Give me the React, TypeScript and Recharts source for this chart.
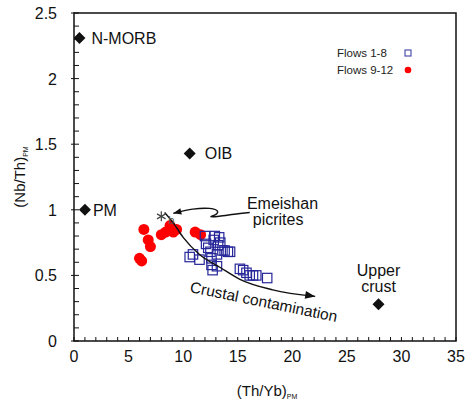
import { ScatterChart, Scatter, XAxis, YAxis, ReferenceArea, Legend, Label } from 'recharts';

const FONT = '"Liberation Sans", Arial, Helvetica, sans-serif';
const INK = '#111';

// Flows 1-8, open squares
const flows1to8 = [
  { x: 10.6, y: 0.64 }, { x: 10.9, y: 0.66 }, { x: 11.5, y: 0.62 }, { x: 12.0, y: 0.8 },
  { x: 12.3, y: 0.71 }, { x: 12.6, y: 0.63 }, { x: 12.8, y: 0.77 }, { x: 12.9, y: 0.8 },
  { x: 13.1, y: 0.57 }, { x: 13.2, y: 0.73 }, { x: 13.4, y: 0.75 }, { x: 12.6, y: 0.58 },
  { x: 13.6, y: 0.69 }, { x: 13.8, y: 0.69 }, { x: 14.1, y: 0.68 }, { x: 14.3, y: 0.68 },
  { x: 12.7, y: 0.54 }, { x: 15.2, y: 0.55 }, { x: 15.5, y: 0.54 }, { x: 15.8, y: 0.52 },
  { x: 16.1, y: 0.5 }, { x: 16.4, y: 0.5 }, { x: 16.7, y: 0.5 }, { x: 17.7, y: 0.48 },
  { x: 12.1, y: 0.74 }, { x: 13.1, y: 0.66 }, { x: 12.5, y: 0.68 }, { x: 13.3, y: 0.79 },
];

// Flows 9-12, filled circles
const flows9to12 = [
  { x: 6.4, y: 0.85 }, { x: 6.8, y: 0.77 }, { x: 7.0, y: 0.72 }, { x: 6.0, y: 0.63 },
  { x: 6.2, y: 0.61 }, { x: 8.0, y: 0.81 }, { x: 8.8, y: 0.88 }, { x: 9.1, y: 0.83 },
  { x: 9.4, y: 0.85 }, { x: 11.1, y: 0.83 }, { x: 11.6, y: 0.81 }, { x: 8.4, y: 0.83 },
];

// reference reservoirs (black diamonds)
const reservoirs = [
  { name: 'N-MORB', x: 0.5, y: 2.31 },
  { name: 'PM', x: 1.0, y: 1.0 },
  { name: 'OIB', x: 10.6, y: 1.43 },
  { name: 'Upper crust', x: 27.9, y: 0.28 },
];

// Emeishan picrite composition
const picrite = [{ x: 8.0, y: 0.95 }];

// crustal contamination trend, picrite -> crust
const contaminationTrend = [
  { x: 8.3, y: 0.98 }, { x: 9.1, y: 0.9 }, { x: 10.0, y: 0.79 }, { x: 11.5, y: 0.66 },
  { x: 13.4, y: 0.56 }, { x: 15.2, y: 0.47 }, { x: 18.2, y: 0.39 }, { x: 22.1, y: 0.34 },
];

// pointer from the "Emeishan picrites" note to the picrite symbol
const picritePointer = [
  { x: 9.1, y: 0.973 }, { x: 10.9, y: 1.01 }, { x: 12.6, y: 1.016 }, { x: 13.35, y: 0.99 },
  { x: 12.9, y: 0.954 }, { x: 12.3, y: 0.946 }, { x: 13.2, y: 0.948 }, { x: 14.7, y: 0.967 },
  { x: 16.1, y: 0.979 },
];

const notes = [
  { text: 'Emeishan', x: 19.1, y: 1.05 },
  { text: 'picrites', x: 18.7, y: 0.925 },
];
const trendNote = { text: 'Crustal contamination', x: 17.4, y: 0.3 };

const xMajor = [0, 5, 10, 15, 20, 25, 30, 35];
const yMajor = [0, 0.5, 1, 1.5, 2, 2.5];
const xMinor = Array.from({ length: 36 }, (_, i) => i);
const yMinor = Array.from({ length: 26 }, (_, i) => i / 10);

const isYMajor = (v: number) => yMajor.some((m) => Math.abs(m - v) < 1e-6);

const XTick = (props: any) => {
  const { x, y, payload } = props;
  const v = payload.value;
  const major = xMajor.includes(v);
  return (
    <g>
      <line x1={x} x2={x} y1={y} y2={y - 4} stroke={INK} strokeWidth={1} />
      {major && (
        <text x={x} y={y + 21} textAnchor="middle" fontSize={16} fill={INK}>{v}</text>
      )}
    </g>
  );
};

const YTick = (props: any) => {
  const { x, y, payload } = props;
  const v = payload.value;
  const major = isYMajor(v);
  return (
    <g>
      <line x1={x - (major ? 3 : 0)} x2={x + 5} y1={y} y2={y} stroke={INK} strokeWidth={1} />
      {major && (
        <text x={x - 17} y={y + 6} textAnchor="end" fontSize={16} fill={INK}>
          {String(Math.round(v * 10) / 10)}
        </text>
      )}
    </g>
  );
};

const Diamond = (props: any) => {
  const { cx, cy, payload } = props;
  const h = 6;
  const name: string = payload.name;
  let label = null;
  if (name === 'Upper crust') {
    label = (
      <text x={cx} textAnchor="middle" fontSize={16} fill={INK}>
        <tspan x={cx} y={cy - 28}>Upper</tspan>
        <tspan x={cx} y={cy - 12}>crust</tspan>
      </text>
    );
  } else {
    const dx = name === 'OIB' ? 15 : name === 'PM' ? 8 : 12;
    label = (
      <text x={cx + dx} y={cy + 6} fontSize={16} fill={INK}>{name}</text>
    );
  }
  return (
    <g>
      <polygon
        points={`${cx},${cy - h} ${cx + h},${cy} ${cx},${cy + h} ${cx - h},${cy}`}
        fill={INK}
      />
      {label}
    </g>
  );
};

const OpenSquare = (props: any) => {
  const { cx, cy } = props;
  return <rect x={cx - 4.7} y={cy - 4.7} width={9.4} height={9.4} fill="none" stroke="#27279a" strokeWidth={1.2} />;
};

const RedDot = (props: any) => <circle cx={props.cx} cy={props.cy} r={5.5} fill="#ff0000" />;

const Asterisk = (props: any) => {
  const { cx, cy } = props;
  const r = 5;
  const arms = [90, 30, -30].map((a) => {
    const t = (a * Math.PI) / 180;
    return (
      <line key={a} x1={cx - r * Math.cos(t)} y1={cy - r * Math.sin(t)} x2={cx + r * Math.cos(t)} y2={cy + r * Math.sin(t)} stroke="#444" strokeWidth={1.2} />
    );
  });
  return (
    <g>
      {arms}
      <text x={cx + 7} y={cy + 8} fontSize={11} fill="#555">b</text>
    </g>
  );
};

const arrowHead = (cx: number, cy: number, angle: number, len: number, half: number) => {
  const t = (angle * Math.PI) / 180;
  const bx = cx - len * Math.cos(t);
  const by = cy - len * Math.sin(t);
  const px = -Math.sin(t) * half;
  const py = Math.cos(t) * half;
  return <polygon points={`${cx},${cy} ${bx + px},${by + py} ${bx - px},${by - py}`} fill={INK} />;
};

const TrendEnd = (props: any) => {
  const { cx, cy, index } = props;
  if (index !== contaminationTrend.length - 1) return <g />;
  return arrowHead(cx, cy, 9, 10, 4);
};

const PointerTip = (props: any) => {
  const { cx, cy, index } = props;
  if (index !== 0) return <g />;
  return arrowHead(cx, cy, 166, 8, 3.2);
};

const NoteText = (props: any) => {
  const { cx, cy, payload } = props;
  return (
    <text x={cx} y={cy} textAnchor="middle" dominantBaseline="central" fontSize={16} fill={INK}>
      {payload.text}
    </text>
  );
};

const TrendText = (props: any) => {
  const { cx, cy, payload } = props;
  return (
    <text
      x={cx}
      y={cy}
      textAnchor="middle"
      dominantBaseline="central"
      fontSize={15.5}
      fill={INK}
      transform={`rotate(11.5 ${cx} ${cy})`}
    >
      {payload.text}
    </text>
  );
};

const LegendBox = () => (
  <svg width={80} height={36} style={{ display: 'block', fontFamily: FONT }}>
    <text x={0} y={13} fontSize={11.5} fill="#222">Flows 1-8</text>
    <rect x={68} y={6} width={6} height={6} fill="none" stroke="#5050b0" strokeWidth={1.2} />
    <text x={0} y={30} fontSize={11.5} fill="#222">Flows 9-12</text>
    <circle cx={71} cy={26} r={3.3} fill="#ff0000" />
  </svg>
);

const XTitle = (props: any) => {
  const { x, y, width } = props.viewBox;
  return (
    <text x={x + width / 2 + 2} y={y + 55} textAnchor="middle" fontSize={15} fill={INK}>
      (Th/Yb)<tspan fontSize={7} dy={3}>PM</tspan>
    </text>
  );
};

const YTitle = (props: any) => {
  const { y, height } = props.viewBox;
  const cx = 25;
  const cy = y + height / 2;
  return (
    <text x={cx} y={cy} textAnchor="middle" fontSize={15} fill={INK} transform={`rotate(-90 ${cx} ${cy})`}>
      (Nb/Th)<tspan fontSize={7} dy={3}>PM</tspan>
    </text>
  );
};

export default function App() {
  return (
    <div style={{ position: 'absolute', left: 0, top: 0, background: '#fff' }}>
      <ScatterChart
        width={466}
        height={403}
        margin={{ top: 13, right: 10, bottom: 22, left: 14 }}
        style={{ fontFamily: FONT }}
      >
        <XAxis
          type="number"
          dataKey="x"
          domain={[0, 35]}
          ticks={xMinor}
          interval={0}
          tick={<XTick />}
          tickLine={false}
          tickSize={0}
          tickMargin={0}
          axisLine={false}
          height={40}
          allowDataOverflow
        >
          <Label content={<XTitle />} />
        </XAxis>
        <YAxis
          type="number"
          dataKey="y"
          domain={[0, 2.5]}
          ticks={yMinor}
          interval={0}
          tick={<YTick />}
          tickLine={false}
          tickSize={0}
          tickMargin={0}
          axisLine={false}
          width={60}
          allowDataOverflow
        >
          <Label content={<YTitle />} />
        </YAxis>
        <ReferenceArea x1={0} x2={35} y1={0} y2={2.5} fill="none" stroke={INK} strokeWidth={1.5} />
        <Legend
          layout="vertical"
          align="center"
          verticalAlign="middle"
          wrapperStyle={{ top: 44, left: 337, width: 80 }}
          content={<LegendBox />}
        />
        <Scatter name="Flows 9-12" data={flows9to12} shape={<RedDot />} isAnimationActive={false} />
        <Scatter name="Flows 1-8" data={flows1to8} shape={<OpenSquare />} isAnimationActive={false} />
        <Scatter
          data={contaminationTrend}
          line={{ stroke: INK, strokeWidth: 1.4 }}
          lineJointType="monotoneX"
          shape={<TrendEnd />}
          isAnimationActive={false}
          legendType="none"
        />
        <Scatter
          data={picritePointer}
          line={{ stroke: INK, strokeWidth: 1.4 }}
          lineJointType="basis"
          shape={<PointerTip />}
          isAnimationActive={false}
          legendType="none"
        />
        <Scatter data={picrite} shape={<Asterisk />} isAnimationActive={false} legendType="none" />
        <Scatter data={reservoirs} shape={<Diamond />} isAnimationActive={false} legendType="none" />
        <Scatter data={notes} shape={<NoteText />} isAnimationActive={false} legendType="none" />
        <Scatter data={[trendNote]} shape={<TrendText />} isAnimationActive={false} legendType="none" />
      </ScatterChart>
    </div>
  );
}
